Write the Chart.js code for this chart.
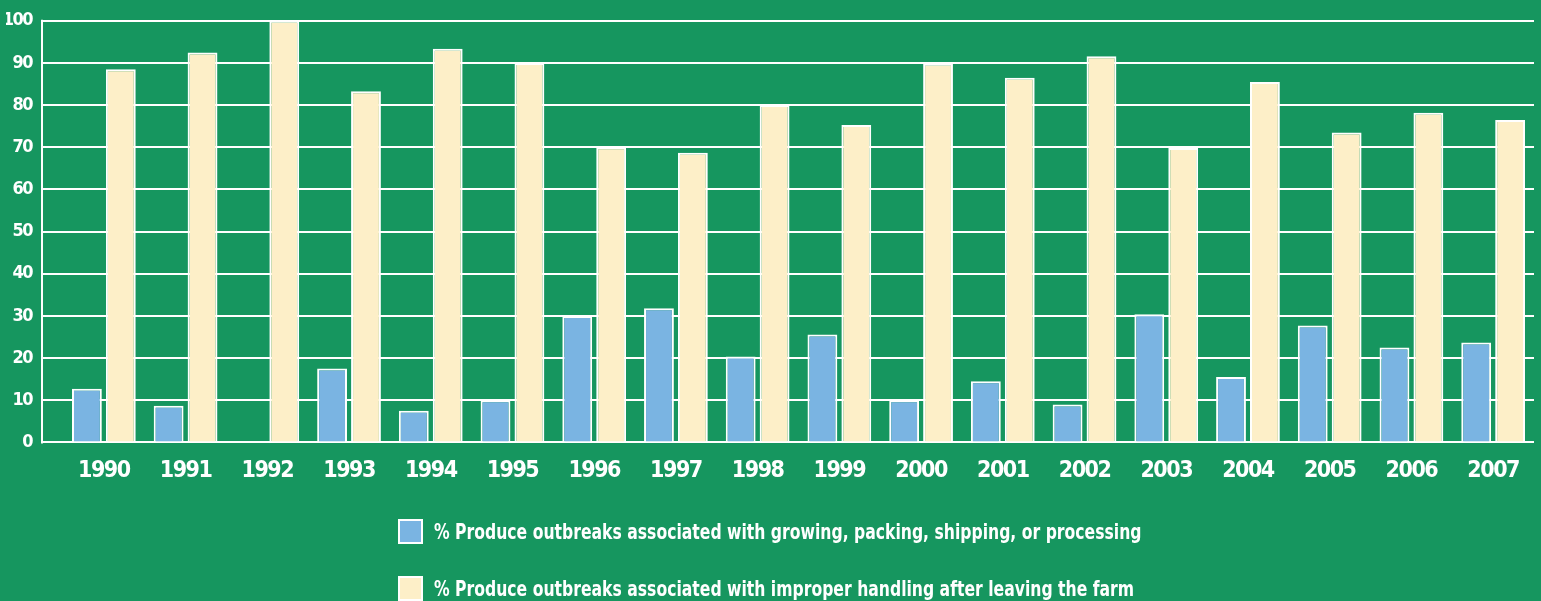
<!DOCTYPE html>
<html>
<head>
<meta charset="utf-8">
<script src="https://cdn.jsdelivr.net/npm/chart.js@4/dist/chart.umd.min.js"></script>
<style>
  html, body { margin: 0; padding: 0; background: #16965f; }
  body {
    width: 1541px; height: 601px; overflow: hidden; position: relative;
    font-family: 'DejaVu Sans Condensed', 'DejaVu Sans', sans-serif;
    font-weight: bold; color: #fff;
  }
  .chart-box { position: absolute; left: 0; top: 0; width: 1541px; height: 520px; }
  .legend { position: absolute; left: 398px; top: 517px; }
  .legend-item { display: flex; align-items: center; height: 28px; margin-bottom: 29px; font-size: 22px; white-space: nowrap; }
  .swatch { flex: none; width: 21px; height: 21px; border: 2px solid #fff; margin-right: 11px; }
  .legend-text { display: inline-block; transform: scaleX(0.79); transform-origin: left center; }
</style>
</head>
<body>
<div class="chart-box"><canvas id="outbreakChart"></canvas></div>
<div class="legend" id="legend"></div>
<script>
// Produce outbreaks by year (%)
const years = ['1990', '1991', '1992', '1993', '1994', '1995', '1996', '1997', '1998',
  '1999', '2000', '2001', '2002', '2003', '2004', '2005', '2006', '2007'];
const growingPct = [12.7, 8.7, 0, 17.5, 7.5, 10, 30, 31.8, 20.4, 25.6, 10, 14.5, 9, 30.4, 15.5, 27.7, 22.5, 23.7];
const handlingPct = [88.5, 92.5, 100, 83.3, 93.4, 90, 70, 68.7, 80, 75.3, 89.8, 86.5, 91.6, 69.8, 85.5, 73.5, 78.2, 76.5];
const yTicks = [0, 10, 20, 30, 40, 50, 60, 70, 80, 90, 100];
const seriesLabels = [
  '% Produce outbreaks associated with growing, packing, shipping, or processing',
  '% Produce outbreaks associated with improper handling after leaving the farm'
];

const BLUE = '#7ab4e2';
const CREAM = '#fdefc8';

Chart.defaults.font.family = "'DejaVu Sans Condensed', 'DejaVu Sans', sans-serif";
Chart.defaults.font.weight = 'bold';
Chart.defaults.color = '#fff';

// no condensed bold font here, so tighten the tick labels a bit
const tightText = {
  id: 'tightText',
  beforeDraw(chart) { chart.ctx.letterSpacing = '-1.5px'; }
};

// y axis line sits at the outer end of the tick marks
const axisLine = {
  id: 'axisLine',
  beforeDatasetsDraw(chart) {
    const y = chart.scales.y;
    const x = chart.chartArea.left - y.options.grid.tickLength;
    const ctx = chart.ctx;
    ctx.save();
    ctx.strokeStyle = '#fff';
    ctx.lineWidth = 2;
    ctx.beginPath();
    ctx.moveTo(x, y.top - 1);
    ctx.lineTo(x, y.bottom + 1);
    ctx.stroke();
    ctx.restore();
  }
};

const outbreakChart = new Chart(document.getElementById('outbreakChart'), {
  type: 'bar',
  data: {
    labels: years,
    datasets: [{
      label: seriesLabels[0],
      data: growingPct,
      backgroundColor: BLUE,
      borderColor: '#fff',
      borderWidth: 2,
    }, {
      label: seriesLabels[1],
      data: handlingPct,
      backgroundColor: CREAM,
      borderColor: '#fff',
      borderWidth: 2,
    }],
  },
  options: {
    responsive: true,
    maintainAspectRatio: false,
    animation: false,
    categoryPercentage: 0.83,
    barPercentage: 0.88,
    layout: { padding: { left: 6, right: 7, top: 17, bottom: 20 } },
    plugins: {
      legend: { display: false },
      tooltip: { enabled: false },
    },
    scales: {
      x: {
        grid: { display: false, drawTicks: false },
        border: { display: false },
        ticks: { font: { size: 23, weight: 'bold' }, color: '#fff', padding: 15, maxRotation: 0, autoSkip: false },
      },
      y: {
        min: 0,
        max: 100,
        afterBuildTicks: scale => { scale.ticks = yTicks.map(v => ({ value: v })); },
        afterFit: scale => { scale.width = 57; },
        grid: { color: '#fff', lineWidth: 2, tickLength: 21, drawTicks: true },
        border: { display: false },
        ticks: { font: { size: 18, weight: 'bold' }, color: '#fff', padding: 10 },
      },
    },
  },
  plugins: [tightText, axisLine],
});

// legend, one row per series
const legend = document.getElementById('legend');
outbreakChart.data.datasets.forEach(ds => {
  const item = document.createElement('div');
  item.className = 'legend-item';
  item.innerHTML = `<span class="swatch" style="background:${ds.backgroundColor}"></span><span class="legend-text">${ds.label}</span>`;
  legend.appendChild(item);
});
</script>
</body>
</html>
